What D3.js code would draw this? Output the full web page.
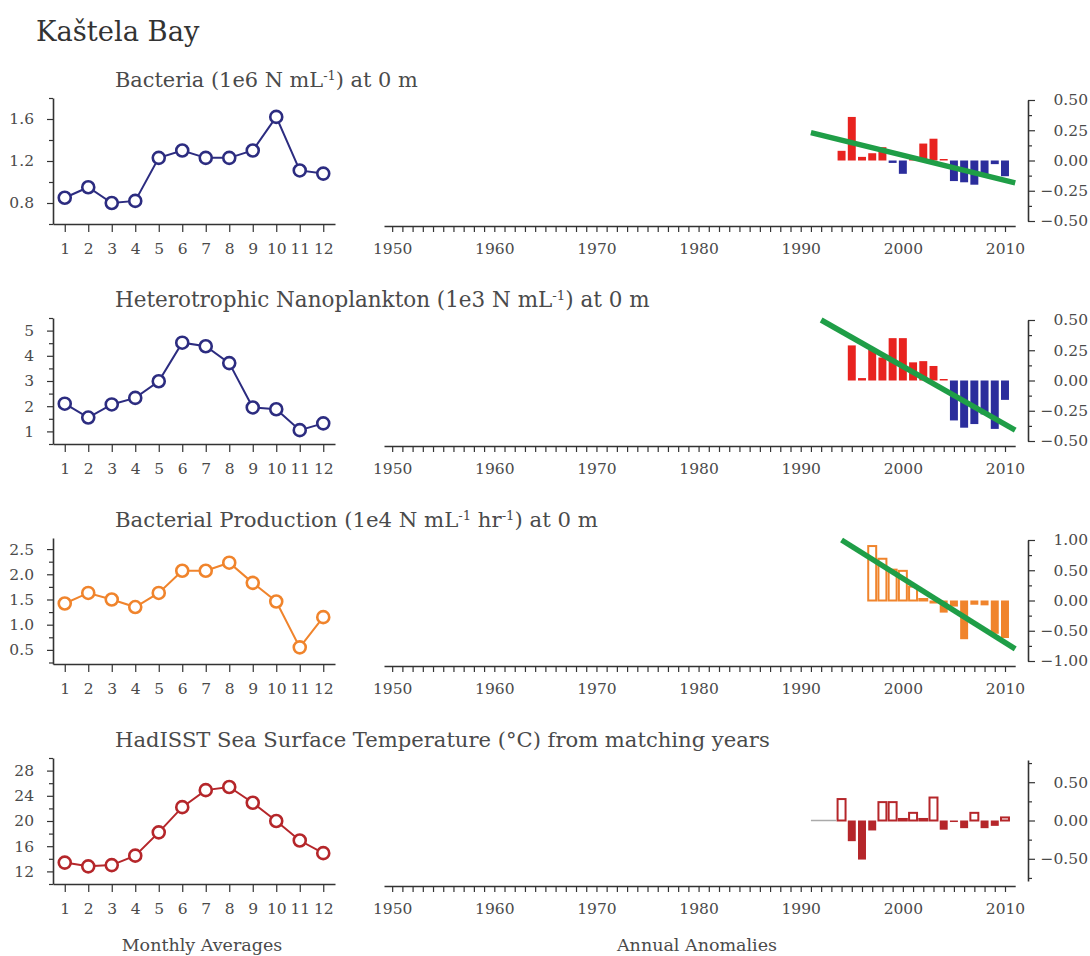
<!DOCTYPE html>
<html><head><meta charset="utf-8">
<script src="https://cdn.jsdelivr.net/npm/d3@7"></script>
<style>body{margin:0;background:#fff}</style>
</head><body>
<script>
// ---------- DATA ----------
const months = [1,2,3,4,5,6,7,8,9,10,11,12];
const bacteriaMonthly = [0.85,0.95,0.80,0.82,1.23,1.30,1.23,1.23,1.30,1.62,1.11,1.08];
const nanoMonthly     = [2.10,1.55,2.07,2.33,2.99,4.52,4.38,3.71,1.95,1.88,1.05,1.32];
const prodMonthly     = [1.42,1.63,1.50,1.35,1.63,2.07,2.07,2.23,1.83,1.46,0.55,1.15];
const sstMonthly      = [13.4,12.8,13.0,14.5,18.2,22.2,24.9,25.4,22.9,20.0,16.9,14.9];

const bacteriaYears = [1994,1995,1996,1997,1998,1999,2000,2001,2002,2003,2004,2005,2006,2007,2008,2009,2010];
const bacteriaAnom  = [0.08,0.36,0.03,0.06,0.11,-0.02,-0.11,0.005,0.14,0.18,0.01,-0.17,-0.18,-0.20,-0.12,-0.03,-0.13];
const bacteriaTrendYears = [1991,2011];
const bacteriaTrendValues = [0.23,-0.185];

const nanoYears = [1995,1996,1997,1998,1999,2000,2001,2002,2003,2004,2005,2006,2007,2008,2009,2010];
const nanoAnom  = [0.29,0.02,0.255,0.19,0.35,0.35,0.15,0.16,0.12,0.005,-0.33,-0.39,-0.36,-0.28,-0.40,-0.16];
const nanoTrendYears = [1992,2011];
const nanoTrendValues = [0.50,-0.41];

const prodYears = [1997,1998,1999,2000,2001,2002,2003,2004,2005,2006,2007,2008,2009,2010];
const prodAnom  = [0.90,0.69,0.51,0.49,0.23,0.02,-0.05,-0.20,-0.10,-0.64,-0.07,-0.08,-0.55,-0.62];
const prodTrendYears = [1994,2011];
const prodTrendValues = [1.00,-0.80];

const sstYears = [1994,1995,1996,1997,1998,1999,2000,2001,2002,2003,2004,2005,2006,2007,2008,2009,2010];
const sstAnom  = [0.28,-0.27,-0.51,-0.13,0.24,0.24,0.02,0.10,0.02,0.30,-0.12,-0.02,-0.10,0.10,-0.10,-0.07,0.04];
const sstGapYears = [1991,1992,1993];

// tick values / labels
const bacteriaTicks = [0.6,0.8,1.0,1.2,1.4,1.6,1.8];
const bacteriaLabels = [0.8,1.2,1.6];
const nanoTicks = [0.5,1,1.5,2,2.5,3,3.5,4,4.5,5,5.5];
const nanoLabels = [1,2,3,4,5];
const prodTicks = [0.25,0.5,0.75,1.0,1.25,1.5,1.75,2.0,2.25,2.5];
const prodLabels = [0.5,1.0,1.5,2.0,2.5];
const sstTicks = [10,12,14,16,18,20,22,24,26,28,30];
const sstLabels = [12,16,20,24,28];

const anomTicksA = [-0.5,-0.375,-0.25,-0.125,0,0.125,0.25,0.375,0.5];
const anomLabelsA = [-0.5,-0.25,0,0.25,0.5];
const anomTicksB = [-1,-0.75,-0.5,-0.25,0,0.25,0.5,0.75,1];
const anomLabelsB = [-1,-0.5,0,0.5,1];
const anomTicksC = [-0.75,-0.5,-0.25,0,0.25,0.5,0.75];
const anomLabelsC = [-0.5,0,0.5];

const yearTicks = d3.range(1950, 2011);
const decadeLabels = [1950,1960,1970,1980,1990,2000,2010];

const titleText = "Kaštela Bay";
const subtitles = [
  [["Bacteria (1e6 N mL",0],["-1",1],[") at 0 m",0]],
  [["Heterotrophic Nanoplankton (1e3 N mL",0],["-1",1],[") at 0 m",0]],
  [["Bacterial Production (1e4 N mL",0],["-1",1],[" hr",0],["-1",1],[") at 0 m",0]],
  [["HadISST Sea Surface Temperature (°C) from matching years",0]]
];

// ---------- STYLE ----------
const FONT = "'DejaVu Serif', serif";
const TXT = "#4a4a4a", AX = "#333";
const navy = "#2c2c80", orange = "#f0842c", sstRed = "#b5262a";
const barRed = "#e8231f", barBlue = "#2b2d9c", green = "#1f9e47";
const TICKFS = 15.5;

const panels = [
  {sub: subtitles[0], color: navy, monthly: bacteriaMonthly, lDom:[0.6,1.8], lTicks:bacteriaTicks, lLabels:bacteriaLabels, lFmt:d3.format(".1f"),
   years:bacteriaYears, anom:bacteriaAnom, pos:barRed, neg:barBlue, posOpen:false, negOpen:false,
   rDom:[-0.5,0.5], rTicks:anomTicksA, rLabels:anomLabelsA, tY:bacteriaTrendYears, tV:bacteriaTrendValues, subW:303},
  {sub: subtitles[1], color: navy, monthly: nanoMonthly, lDom:[0.5,5.5], lTicks:nanoTicks, lLabels:nanoLabels, lFmt:d3.format("d"),
   years:nanoYears, anom:nanoAnom, pos:barRed, neg:barBlue, posOpen:false, negOpen:false,
   rDom:[-0.5,0.5], rTicks:anomTicksA, rLabels:anomLabelsA, tY:nanoTrendYears, tV:nanoTrendValues, subW:535},
  {sub: subtitles[2], color: orange, monthly: prodMonthly, lDom:[0.22,2.72], lTicks:prodTicks, lLabels:prodLabels, lFmt:d3.format(".1f"),
   years:prodYears, anom:prodAnom, pos:orange, neg:orange, posOpen:true, negOpen:false,
   rDom:[-1,1], rTicks:anomTicksB, rLabels:anomLabelsB, tY:prodTrendYears, tV:prodTrendValues, subW:483},
  {sub: subtitles[3], color: sstRed, monthly: sstMonthly, lDom:[10,30], lTicks:sstTicks, lLabels:sstLabels, lFmt:d3.format("d"),
   years:sstYears, anom:sstAnom, pos:sstRed, neg:sstRed, posOpen:true, negOpen:false,
   rDom:[-0.79,0.79], rTicks:anomTicksC, rLabels:anomLabelsC, gap:sstGapYears, subW:655}
];

// ---------- DRAW ----------
const W = 1090, H = 956;
const svg = d3.select("body").append("svg").attr("width", W).attr("height", H)
  .style("font-family", FONT);

function fit(sel, target){
  const w = sel.node().getBBox().width;
  const fs = parseFloat(sel.attr("font-size"));
  sel.attr("font-size", fs * target / w);
}

const t = svg.append("text").attr("x", 36).attr("y", 41).attr("font-size", 24)
  .attr("fill", "#333").text(titleText);
fit(t, 164);

const xm = d3.scaleLinear().domain([0.5, 12.5]).range([53, 335]);
const xy = d3.scaleLinear().domain([1949.2, 2011]).range([384, 1015.2]);
const has = (arr, d) => arr.some(v => Math.abs(v - d) < 1e-9);

panels.forEach((p, i) => {
  const bottom = 224 + 220 * i;
  const g = svg.append("g");

  // subtitle
  const st = g.append("text").attr("x", 115).attr("y", 87 + 220 * i)
    .attr("font-size", 19).attr("fill", TXT);
  let prevSup = false;
  p.sub.forEach(([s, sup]) => {
    const ts = st.append("tspan").text(s);
    if (sup) { ts.attr("font-size", "0.62em").attr("dy", "-0.55em"); }
    else if (prevSup) { ts.attr("dy", "0.341em"); }
    prevSup = !!sup;
  });
  fit(st, p.subW);

  // ----- left: monthly averages -----
  const yl = d3.scaleLinear().domain(p.lDom).range([bottom, bottom - 126]);
  const la = g.append("g").attr("transform", "translate(53,0)")
    .call(d3.axisLeft(yl).tickValues(p.lTicks).tickSize(6).tickSizeOuter(0).tickPadding(13)
      .tickFormat(d => has(p.lLabels, d) ? p.lFmt(d) : ""));
  const lb = g.append("g").attr("transform", `translate(0,${bottom})`)
    .call(d3.axisBottom(xm).tickValues(months).tickSize(8).tickSizeOuter(0).tickPadding(11).tickFormat(d3.format("d")));
  [la, lb].forEach(a => {
    a.select(".domain").attr("stroke", AX).attr("stroke-width", 1.6);
    a.selectAll(".tick line").attr("stroke", AX).attr("stroke-width", 1.2);
    a.selectAll("text").attr("fill", TXT).attr("font-size", TICKFS).attr("font-family", FONT);
  });
  la.selectAll(".tick").filter(d => !has(p.lLabels, d)).select("line").attr("x2", -4);

  const line = d3.line().x((d, j) => xm(months[j])).y(d => yl(d));
  g.append("path").datum(p.monthly).attr("d", line).attr("fill", "none")
    .attr("stroke", p.color).attr("stroke-width", 2);
  g.selectAll("circle.m").data(p.monthly).join("circle").attr("class", "m")
    .attr("cx", (d, j) => xm(months[j])).attr("cy", d => yl(d)).attr("r", 6)
    .attr("fill", "#fff").attr("stroke", p.color).attr("stroke-width", 2.6);

  // ----- right: annual anomalies -----
  const yr = d3.scaleLinear().domain(p.rDom).range([bottom - 3, bottom - 124]);
  const y0 = yr(0);
  const bw = 0.78 * (xy(1) - xy(0));
  g.selectAll("rect.b").data(p.anom).join("rect").attr("class", "b")
    .each(function(d, j) {
      const open = d >= 0 ? p.posOpen : p.negOpen;
      const col = d >= 0 ? p.pos : p.neg;
      let top = Math.min(yr(d), y0), h = Math.abs(yr(d) - y0);
      if (h < 1.5) { h = 1.5; if (d < 0) top = y0; else top = y0 - 1.5; }
      d3.select(this)
        .attr("x", xy(p.years[j]) - bw / 2).attr("width", bw)
        .attr("y", top).attr("height", h)
        .attr("fill", open ? "#fff" : col)
        .attr("stroke", open ? col : "none").attr("stroke-width", open ? 2 : 0);
    });

  if (p.gap) {
    g.append("line").attr("x1", xy(d3.min(p.gap))).attr("x2", xy(d3.max(p.gap) + 0.5))
      .attr("y1", y0).attr("y2", y0).attr("stroke", "#aaa").attr("stroke-width", 1.5);
  }
  if (p.tY) {
    g.append("line").attr("x1", xy(p.tY[0])).attr("y1", yr(p.tV[0]))
      .attr("x2", xy(p.tY[1])).attr("y2", yr(p.tV[1]))
      .attr("stroke", green).attr("stroke-width", 5.5).attr("stroke-linecap", "butt");
  }

  const rb = g.append("g").attr("transform", `translate(0,${bottom + 2})`)
    .call(d3.axisBottom(xy).tickValues(yearTicks).tickSize(6).tickSizeOuter(0).tickPadding(11)
      .tickFormat(d => decadeLabels.includes(d) ? d : ""));
  const ra = g.append("g").attr("transform", "translate(1028,0)")
    .call(d3.axisRight(yr).tickValues(p.rTicks).tickSize(7).tickSizeOuter(0)
      .tickFormat(d => has(p.rLabels, d) ? d3.format(".2f")(d) : ""));
  ra.selectAll("text").attr("x", 60).attr("text-anchor", "end");
  ra.selectAll(".tick").filter(d => !has(p.rLabels, d)).select("line").attr("x2", 4);
  [rb, ra].forEach(a => {
    a.select(".domain").attr("stroke", AX).attr("stroke-width", 1.6);
    a.selectAll(".tick line").attr("stroke", AX).attr("stroke-width", 1.2);
    a.selectAll("text").attr("fill", TXT).attr("font-size", TICKFS).attr("font-family", FONT);
  });
});

svg.append("text").attr("x", 202).attr("y", 951).attr("text-anchor", "middle")
  .attr("font-size", 17.5).attr("fill", TXT).text("Monthly Averages");
svg.append("text").attr("x", 697).attr("y", 951).attr("text-anchor", "middle")
  .attr("font-size", 17.5).attr("fill", TXT).text("Annual Anomalies");
</script>
</body></html>
